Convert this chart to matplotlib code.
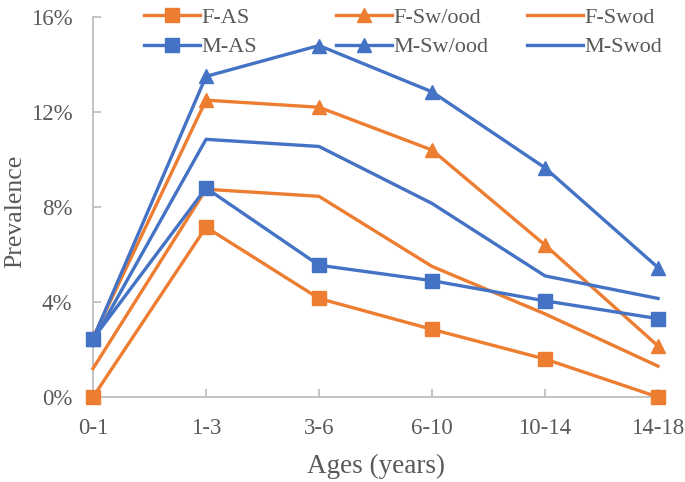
import matplotlib
matplotlib.use("Agg")
from matplotlib import pyplot as plt
from matplotlib.ticker import FuncFormatter

plt.rcParams['font.family'] = ['Liberation Serif', 'DejaVu Serif']

ages = ['0-1', '1-3', '3-6', '6-10', '10-14', '14-18']

f_as = [0.0, 7.15, 4.15, 2.85, 1.6, 0.0]
f_swood = [2.5, 12.5, 12.2, 10.4, 6.4, 2.15]
f_swod = [1.2, 8.75, 8.45, 5.5, 3.5, 1.3]
m_as = [2.45, 8.8, 5.55, 4.9, 4.05, 3.3]
m_swood = [2.45, 13.5, 14.8, 12.85, 9.65, 5.45]
m_swod = [2.35, 10.85, 10.55, 8.15, 5.1, 4.15]

orange = '#ED7D31'
blue = '#4472C4'
grey = '#BFBFBF'
txt = '#595959'

fig = plt.figure(figsize=(6.85, 4.82), dpi=100)
ax = fig.add_axes([0.1358, 0.1763, 0.8248, 0.7884])

x = range(len(ages))
lw = 2.4
ms = 10.5
h1, = ax.plot(x, f_as, color=orange, lw=lw, marker='s', ms=ms, clip_on=False, zorder=3)
h2, = ax.plot(x, f_swood, color=orange, lw=lw, marker='^', ms=ms, clip_on=False, zorder=3)
h3, = ax.plot(x, f_swod, color=orange, lw=lw, clip_on=False, zorder=3)
h5, = ax.plot(x, m_swood, color=blue, lw=lw, marker='^', ms=ms, clip_on=False, zorder=3)
h6, = ax.plot(x, m_swod, color=blue, lw=lw, clip_on=False, zorder=3)
h4, = ax.plot(x, m_as, color=blue, lw=lw, marker='s', ms=ms, clip_on=False, zorder=4)

ax.set_xlim(0, 5)
ax.set_ylim(0, 16)
ax.set_xticks(list(x))
ax.set_xticklabels(ages)
ax.set_yticks([0, 4, 8, 12, 16])
ax.yaxis.set_major_formatter(FuncFormatter(lambda v, p: '%d%%' % v))

for s in ['top', 'right']:
    ax.spines[s].set_visible(False)
for s in ['left', 'bottom']:
    ax.spines[s].set_color(grey)
    ax.spines[s].set_linewidth(1.3)
ax.tick_params(direction='in', length=6, width=1.3, color=grey,
               labelsize=16.5, labelcolor=txt)
ax.tick_params(axis='y', pad=15)
ax.tick_params(axis='x', pad=15)

ax.set_xlabel('Ages (years)', fontsize=19.5, color=txt, labelpad=11)
fig.text(15 / 685, 1 - 211 / 482, 'Prevalence', rotation=90, ha='center', va='center',
         fontsize=18.5, color=txt)

# three separate legends so the columns sit where Excel put them
cols = [([h1, h4], ['F-AS', 'M-AS'], 144),
        ([h2, h5], ['F-Sw/ood', 'M-Sw/ood'], 336),
        ([h3, h6], ['F-Swod', 'M-Swod'], 527)]
for hs, labs, px in cols:
    leg = fig.legend(hs, labs, loc='upper left', bbox_to_anchor=(px / 685, 1 - 7 / 482),
                     frameon=False, fontsize=16, borderpad=0, borderaxespad=0,
                     handlelength=2.5, handletextpad=0.1, labelspacing=0.42,
                     labelcolor=txt)

fig.savefig('out.png', dpi=100)
